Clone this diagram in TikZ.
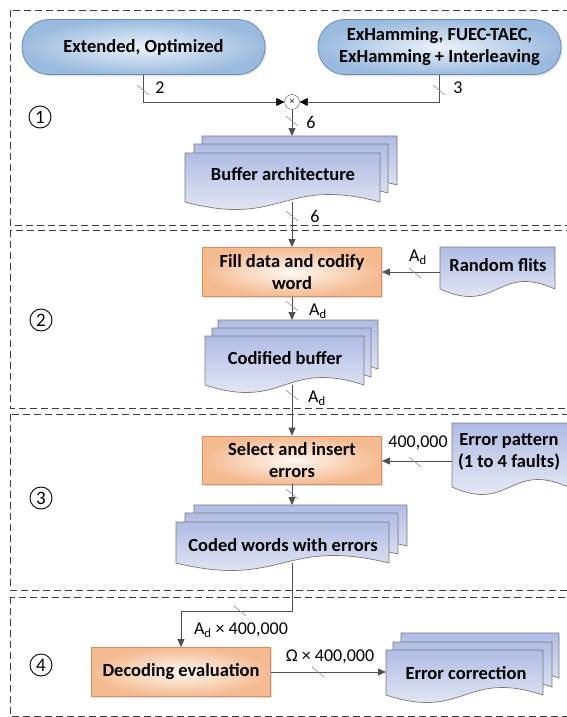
\documentclass[tikz,border=0pt]{standalone}
\usepackage{fontspec}
\setmainfont{Carlito}
\usetikzlibrary{arrows.meta,shadows}
\definecolor{linec}{RGB}{80,80,80}
\definecolor{tickc}{RGB}{140,140,140}
\definecolor{framec}{RGB}{60,60,60}
\definecolor{pillb}{RGB}{100,140,190}
\definecolor{pillin}{RGB}{236,242,250}
\definecolor{pillout}{RGB}{155,187,222}
\definecolor{procb}{RGB}{225,140,90}
\definecolor{procin}{RGB}{255,248,242}
\definecolor{procout}{RGB}{244,186,144}
\definecolor{docb}{RGB}{120,120,125}
\definecolor{doctop}{RGB}{176,188,228}
\definecolor{docbot}{RGB}{242,243,248}
\newcommand\docshape[4]{%
  \path[docsty] (#1,#2) -- (#3,#2) -- (#3,#4)
    .. controls ({(#1+#3)/2},{#4-26}) and ({(#1+#3)/2},{#4+26}) .. (#1,#4) -- cycle;}
\begin{document}
\begin{tikzpicture}[x=1pt,y=-1pt,
  frame/.style={draw=framec, dash pattern=on 7pt off 4pt, line width=0.9pt},
  pill/.style={draw=pillb, line width=0.8pt, rounded corners=27pt,
    minimum width=243pt, minimum height=55pt, inner color=pillin, outer color=pillout,
    font=\bfseries\fontsize{18.5}{22}\selectfont, align=center,
    drop shadow={opacity=0.25,shadow xshift=1.5pt,shadow yshift=-1.5pt}},
  proc/.style={draw=procb, line width=0.8pt, minimum width=179pt, minimum height=49pt,
    inner color=procin, outer color=procout,
    font=\bfseries\fontsize{18.5}{22}\selectfont, align=center,
    drop shadow={opacity=0.25,shadow xshift=1.5pt,shadow yshift=-1.5pt}},
  docsty/.style={draw=docb, line width=0.7pt, top color=doctop, bottom color=docbot},
  txt/.style={font=\bfseries\fontsize{18.5}{22}\selectfont, align=center},
  lbl/.style={font=\fontsize{18}{20}\selectfont, inner sep=0pt},
  conn/.style={draw=linec, line width=0.8pt},
  arr/.style={conn, -{Triangle[length=8pt,width=7pt]}},
  muxarr/.style={conn, -{Triangle[length=8pt,width=8pt,color=black]}},
  tick/.style={draw=tickc, line width=0.6pt},
  num/.style={circle, draw=black, line width=0.9pt, minimum size=22pt, inner sep=0pt,
    font=\fontsize{19}{19}\selectfont}]
\useasboundingbox (0,0) rectangle (566,717);

% frames
\draw[frame] (10,10) rectangle (570,225);
\draw[frame] (10,230) rectangle (570,408);
\draw[frame] (10,414) rectangle (570,590);
\draw[frame] (10,597) rectangle (570,716);

% stage numbers
\node[num] (n1) at (40,117) {1};
\node[num] (n2) at (41,320) {2};
\node[num] (n3) at (41,498) {3};
\node[num] (n4) at (41,665) {4};

% stage 1
\node[pill] (pillL) at (143.5,47) {Extended, Optimized};
\node[pill] (pillR) at (439.5,47) {ExHamming, FUEC-TAEC,\\ExHamming + Interleaving};
\node[circle, draw=linec, fill=white, minimum size=15pt, inner sep=0pt,
  font=\fontsize{10}{10}\selectfont] (mux) at (292,102) {×};
\draw[muxarr] (pillL.south) |- (mux.west);
\draw[muxarr] (pillR.south) |- (mux.east);
\node[lbl] (l2) at (160,88) {2};
\node[lbl] (l3) at (458,88) {3};
\draw[tick] (137,85) -- (149,95);
\draw[tick] (433,85) -- (445,95);

\docshape{202}{136}{397}{185}
\docshape{194}{144}{388}{193}
\docshape{185}{153}{380}{202}
\node[txt] (buf) at (283,174) {Buffer architecture};
\coordinate (bufT) at (292,136);
\coordinate (bufB) at (292,202);
\draw[arr] (mux.south) -- (bufT);
\draw[tick] (286,116) -- (298,126);
\node[lbl] (l6a) at (311,122) {6};

% stage 2
\node[proc] (fill) at (292,272) {Fill data and codify\\word};
\draw[arr] (bufB) -- (fill.north);
\draw[tick] (286,211) -- (298,221);
\node[lbl] (l6b) at (315,216) {6};

\docshape{440}{247}{555}{289}
\node[txt] (rand) at (498,265) {Random flits};
\coordinate (randW) at (440,272);
\draw[arr] (randW) -- (fill.east);
\draw[tick] (409,268) -- (421,278);
\node[lbl] (lad1) at (418,257) {A\textsubscript{d}};

\docshape{218}{320}{378}{369}
\docshape{212}{328}{371}{377}
\docshape{205}{336}{364}{385}
\node[txt] (cod) at (285,358) {Codified buffer};
\coordinate (codT) at (292,320);
\coordinate (codB) at (292,385);
\draw[arr] (fill.south) -- (codT);
\draw[tick] (286,301) -- (298,311);
\node[lbl] (lad2) at (318,311) {A\textsubscript{d}};

% stage 3
\node[proc] (sel) at (292,460) [minimum height=48pt] {Select and insert\\errors};
\draw[arr] (codB) -- (sel.north);
\draw[tick] (286,390) -- (298,400);
\node[lbl] (lad3) at (317,398) {A\textsubscript{d}};

\docshape{452}{423}{568}{487}
\node[txt] (err) at (509,452) {Error pattern\\(1 to 4 faults)};
\coordinate (errW) at (452,461);
\draw[arr] (errW) -- (errW -| sel.east);
\draw[tick] (409,457) -- (421,467);
\node[lbl] (l400) at (418,443) {400,000};

\docshape{194}{505}{407}{546}
\docshape{185}{513}{398}{554}
\docshape{176}{522}{389}{563}
\node[txt] (coded) at (283,545) {Coded words with errors};
\coordinate (codedT) at (292,505);
\coordinate (codedB) at (292,563);
\draw[arr] (sel.south) -- (codedT);
\draw[tick] (286,489) -- (298,499);

% stage 4
\node[proc] (dec) at (181,672) {Decoding evaluation};
\coordinate (bend) at (292,611);
\draw[arr] (codedB) -- (bend) -| (dec.north);
\draw[tick] (234,606) -- (246,616);
\node[lbl] (ladx) at (241,630) {A\textsubscript{d} × 400,000};

\docshape{401}{633}{559}{678}
\docshape{393}{642}{552}{687}
\docshape{386}{650}{543}{695}
\node[txt] (corr) at (466,673) {Error correction};
\coordinate (corrW) at (386,672);
\draw[arr] (dec.east) -- (corrW);
\draw[tick] (312,667) -- (324,677);
\node[lbl] (lom) at (330,657) {Ω × 400,000};
\end{tikzpicture}
\end{document}
